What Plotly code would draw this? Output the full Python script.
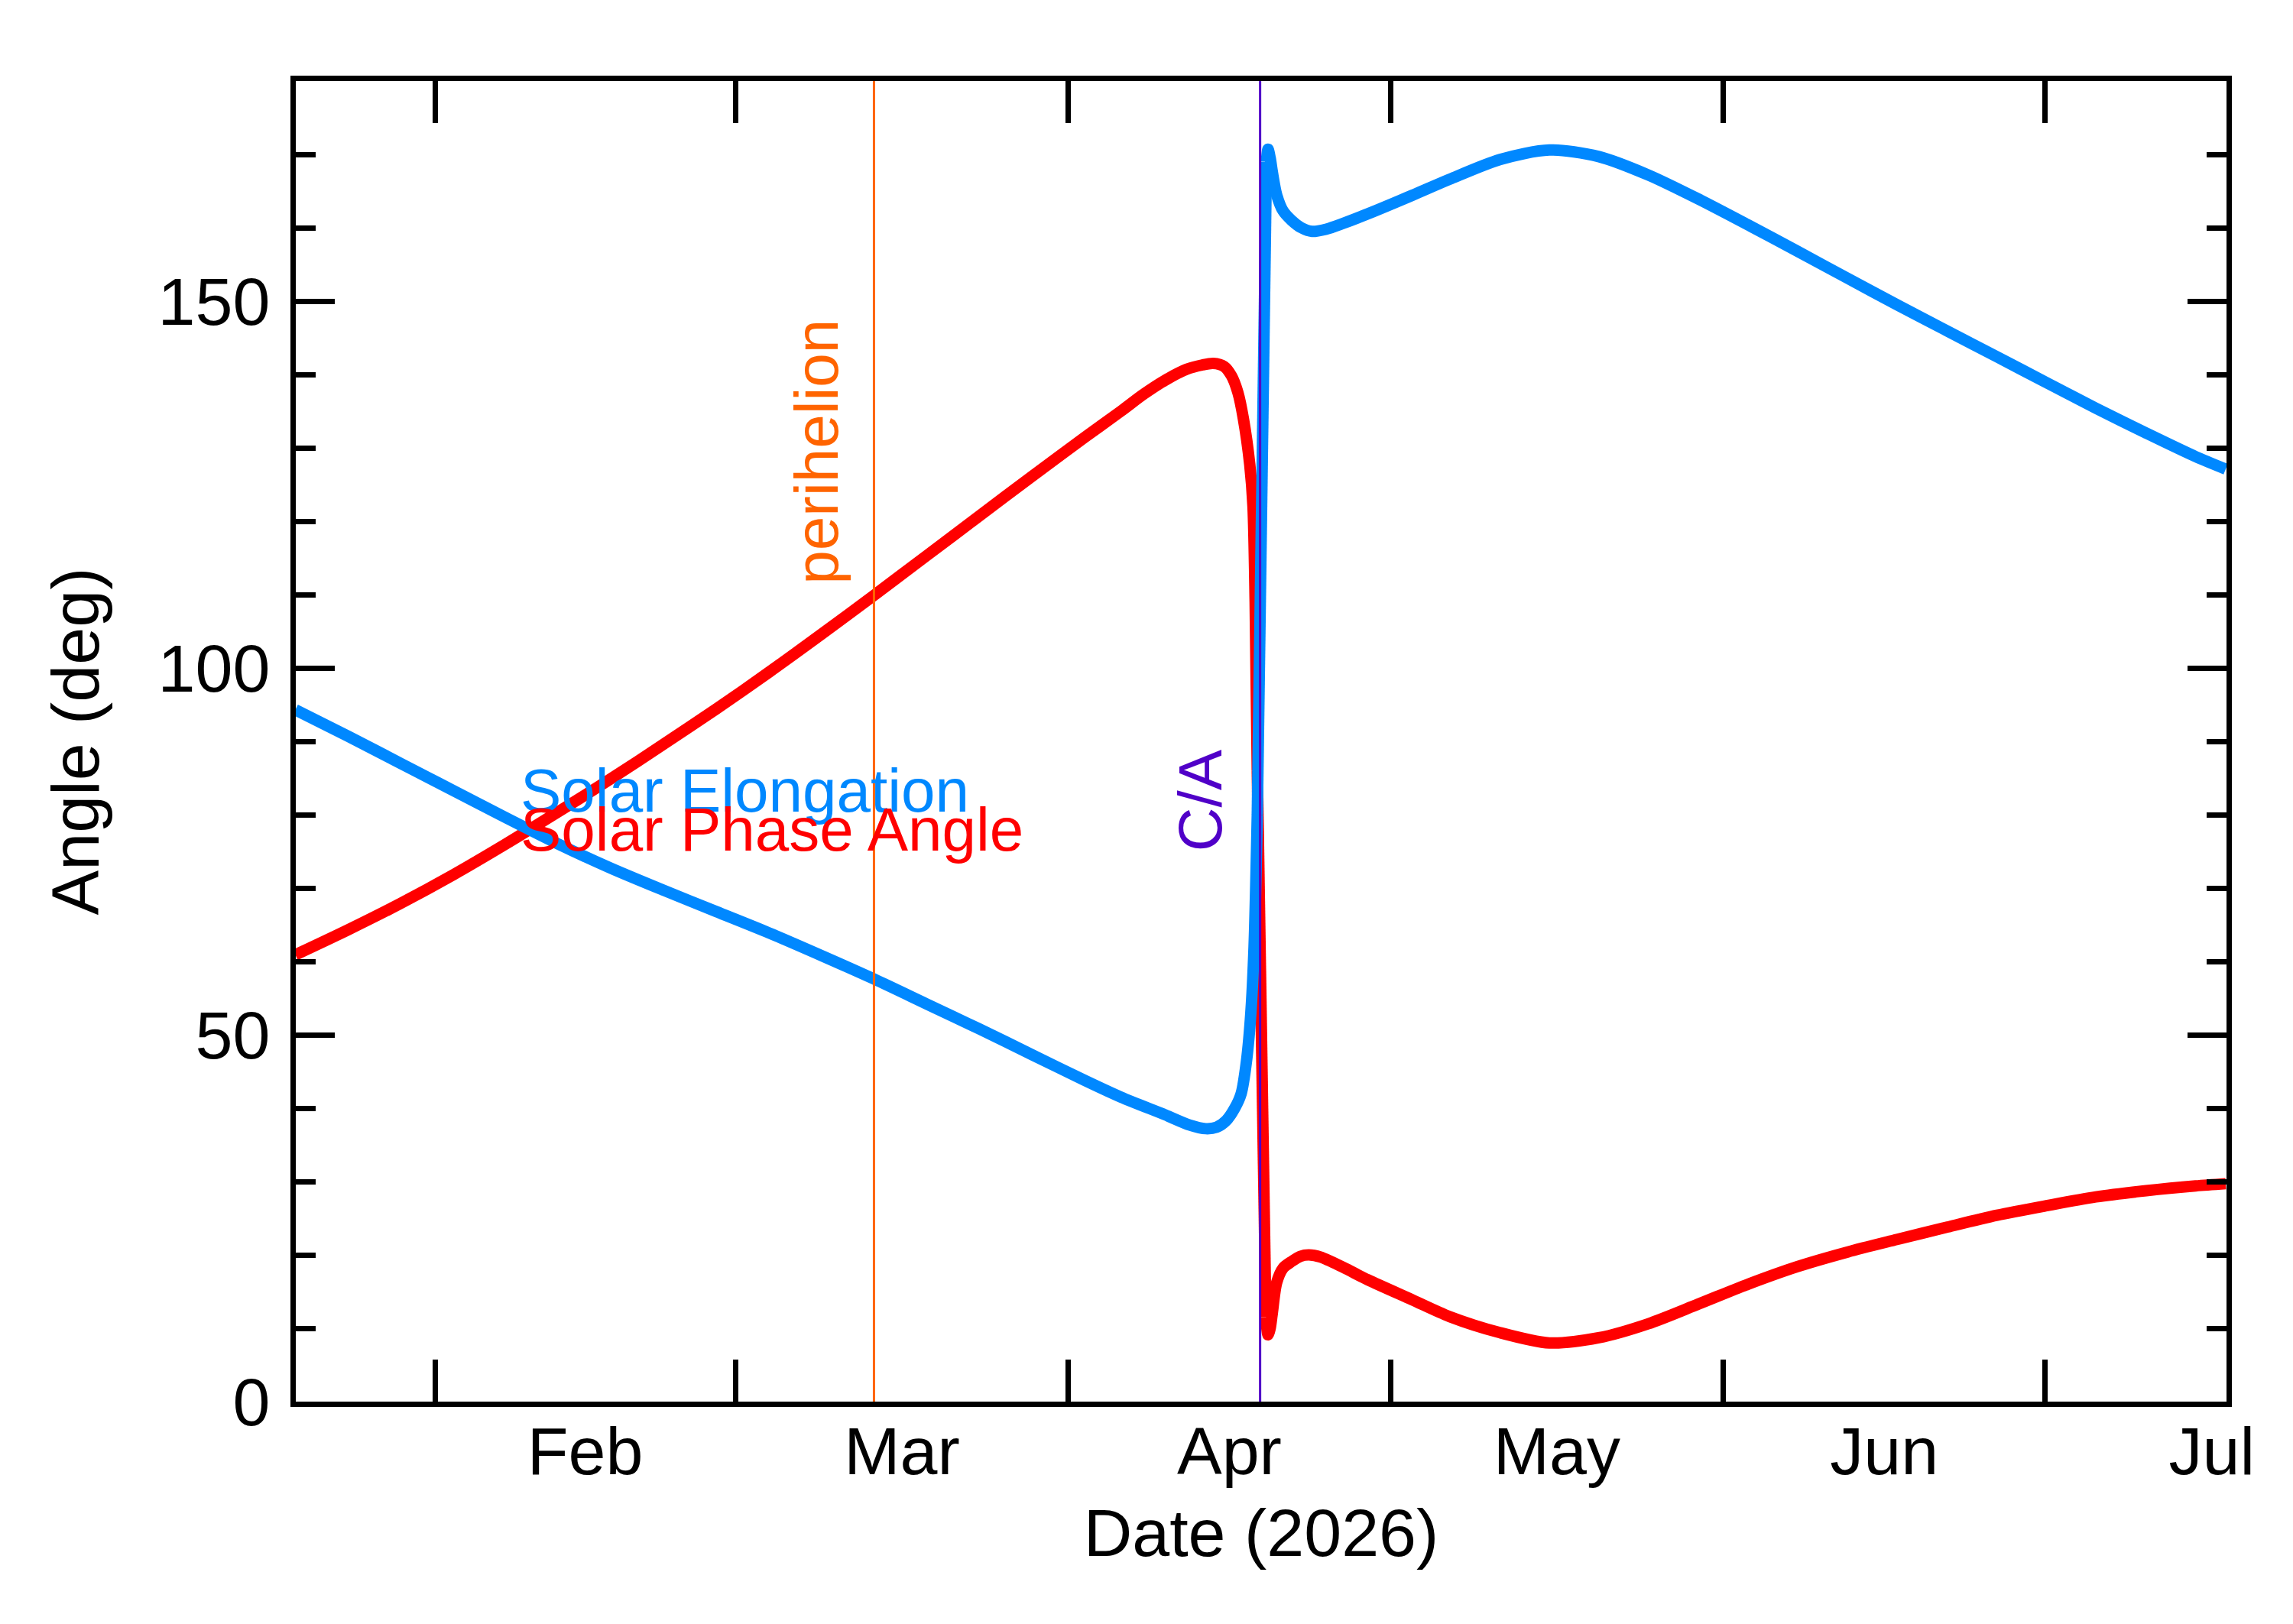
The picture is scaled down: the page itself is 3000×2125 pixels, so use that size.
import pandas as pd
import plotly.graph_objects as go

# days after 2026-01-19 00:00 and the angles (deg)
start = pd.Timestamp("2026-01-19")

elong_days = [0, 4.9, 9.8, 14.7, 19.6, 24.5, 29.4, 34.3, 39.2, 44.1, 49.0, 53.9,
              58.8, 63.7, 68.6, 73.5, 76.9, 81.0, 83.3, 84.8, 85.8, 86.7, 87.5,
              88.1, 88.6, 89.0, 89.3, 89.6, 89.8, 89.95, 90.1, 90.3, 90.45, 90.6,
              90.8, 91.0, 91.4, 92.0, 92.8, 93.7, 94.7, 96.0, 97.6, 99.9, 104.0,
              107.5, 112.2, 116.8, 121.4, 126.0, 130.7, 135.3, 139.9, 144.6,
              149.2, 153.9, 158.5, 163.1, 167.7, 172.4, 177.0, 179.8]
elongation = [94.3, 90.7, 87.0, 83.3, 79.6, 76.0, 72.7, 69.7, 66.8, 63.9, 60.8, 57.6,
              54.2, 50.8, 47.3, 43.8, 41.5, 39.1, 37.7, 37.2, 37.4, 38.3, 40.0,
              42.0, 46.5, 53.0, 62.0, 80.0, 105.0, 130.0, 150.0, 163.0, 169.0, 170.7,
              169.5, 167.6, 164.5, 162.3, 161.0, 160.0, 159.5, 159.8, 160.6, 161.9, 164.4,
              166.6, 169.3, 170.6, 169.7, 167.2, 163.9, 160.4, 156.8, 153.1,
              149.5, 145.9, 142.4, 138.9, 135.4, 132.0, 128.8, 127.1]

phase_days = [0, 4.9, 9.8, 14.7, 19.6, 24.5, 29.4, 34.3, 39.2, 44.1, 49.0, 53.9,
              58.8, 63.7, 68.6, 73.5, 76.9, 79.0, 81.0, 83.0, 84.5, 85.5, 86.5,
              87.2, 87.8, 88.3, 88.9, 89.2, 89.4, 89.6, 89.8, 90.0, 90.1, 90.2,
              90.4, 90.6, 90.8, 91.0, 91.4, 92.0, 92.8, 93.6, 94.4, 95.5, 97.6,
              99.9, 104.0, 107.5, 112.2, 116.8, 121.4, 126.0, 130.7, 135.3, 139.9,
              144.6, 149.2, 153.9, 158.5, 163.1, 167.7, 172.4, 177.0, 179.8]
phase = [60.9, 64.3, 67.9, 71.8, 76.0, 80.4, 84.9, 89.6, 94.4, 99.4, 104.6, 109.9,
         115.3, 120.7, 126.1, 131.4, 135.0, 137.3, 139.2, 140.7, 141.3, 141.5, 141.1,
         139.8, 137.5, 134.0, 127.7, 122.0, 109.0, 86.0, 62.0, 42.0, 32.0, 20.0,
         11.5, 9.1, 10.0, 12.1, 16.2, 18.2, 19.1, 19.8, 20.0, 19.7, 18.3,
         16.6, 13.9, 11.6, 9.4, 8.0, 8.7, 10.6, 13.3, 16.0, 18.4,
         20.4, 22.1, 23.8, 25.4, 26.7, 27.9, 28.75, 29.4, 29.7]

perihelion_date = "2026-03-13 21:30"
ca_date = "2026-04-18 20:40"

month_starts = ["2026-02-01", "2026-03-01", "2026-04-01", "2026-05-01", "2026-06-01", "2026-07-01"]
month_mids = ["2026-02-15", "2026-03-16 12:00", "2026-04-16", "2026-05-16 12:00",
              "2026-06-16", "2026-07-16 12:00"]
month_names = ["Feb", "Mar", "Apr", "May", "Jun", "Jul"]

BLUE = "#0088FF"
RED = "#FF0000"
ORANGE = "#FF6400"
PURPLE = "#5000C8"
FONT = "Liberation Sans"


def add_curve(fig, days, vals, color, fast_from, fast_to):
    # smooth parts drawn as splines, the near-vertical swing at C/A as straight pieces
    x = start + pd.to_timedelta(days, unit="D")
    parts = [
        ([i for i, d in enumerate(days) if d <= fast_from], "spline"),
        ([i for i, d in enumerate(days) if fast_from <= d <= fast_to], "linear"),
        ([i for i, d in enumerate(days) if d >= fast_to], "spline"),
    ]
    for idx, shape in parts:
        fig.add_trace(go.Scatter(
            x=[x[i] for i in idx], y=[vals[i] for i in idx], mode="lines",
            line=dict(color=color, width=15, shape=shape, smoothing=0.8),
            showlegend=False, hoverinfo="none"))


fig = go.Figure()

fig.add_vline(x=pd.Timestamp(perihelion_date), line=dict(color=ORANGE, width=3))
fig.add_vline(x=pd.Timestamp(ca_date), line=dict(color=PURPLE, width=3))

add_curve(fig, phase_days, phase, RED, 89.6, 90.4)
add_curve(fig, elong_days, elongation, BLUE, 89.6, 90.45)

fig.add_annotation(x=pd.Timestamp("2026-02-08 20:00"), y=83.3, text="Solar Elongation",
                   xanchor="left", yanchor="middle", showarrow=False,
                   font=dict(family=FONT, size=80, color=BLUE))
fig.add_annotation(x=pd.Timestamp("2026-02-08 20:00"), y=78.0, text="Solar Phase Angle",
                   xanchor="left", yanchor="middle", showarrow=False,
                   font=dict(family=FONT, size=80, color=RED))
fig.add_annotation(x=pd.Timestamp("2026-03-08 14:00"), y=129.5, text="perihelion",
                   textangle=-90, xanchor="center", yanchor="middle", showarrow=False,
                   font=dict(family=FONT, size=80, color=ORANGE))
fig.add_annotation(x=pd.Timestamp("2026-04-13 07:00"), y=82.0, text="C/A",
                   textangle=-90, xanchor="center", yanchor="middle", showarrow=False,
                   font=dict(family=FONT, size=80, color=PURPLE))

fig.update_layout(
    width=3000, height=2125,
    margin=dict(l=379, r=95, t=98, b=299),
    paper_bgcolor="white", plot_bgcolor="white",
    font=dict(family=FONT, size=88, color="black"),
    showlegend=False,
)

fig.update_xaxes(
    type="date",
    range=["2026-01-19 01:00", "2026-07-17 21:00"],
    tickmode="array", tickvals=month_mids, ticktext=month_names,
    ticks="", ticklabelstandoff=-18,
    minor=dict(tickmode="array", tickvals=month_starts, ticks="inside",
               ticklen=55, tickwidth=7, tickcolor="black"),
    showline=True, linewidth=7, linecolor="black", mirror="ticks",
    showgrid=False, zeroline=False,
    title=dict(text="Date (2026)", standoff=30, font=dict(size=88)),
    tickfont=dict(size=88),
)

fig.update_yaxes(
    range=[0, 180],
    tickmode="linear", tick0=0, dtick=50,
    ticks="inside", ticklen=51, tickwidth=7, tickcolor="black",
    minor=dict(dtick=10, ticks="inside", ticklen=26, tickwidth=7, tickcolor="black"),
    showline=True, linewidth=7, linecolor="black", mirror="ticks",
    showgrid=False, zeroline=False,
    title=dict(text="Angle (deg)", standoff=50, font=dict(size=88)),
    tickfont=dict(size=88), ticklabelstandoff=9,
)

fig.write_html("out.html")
